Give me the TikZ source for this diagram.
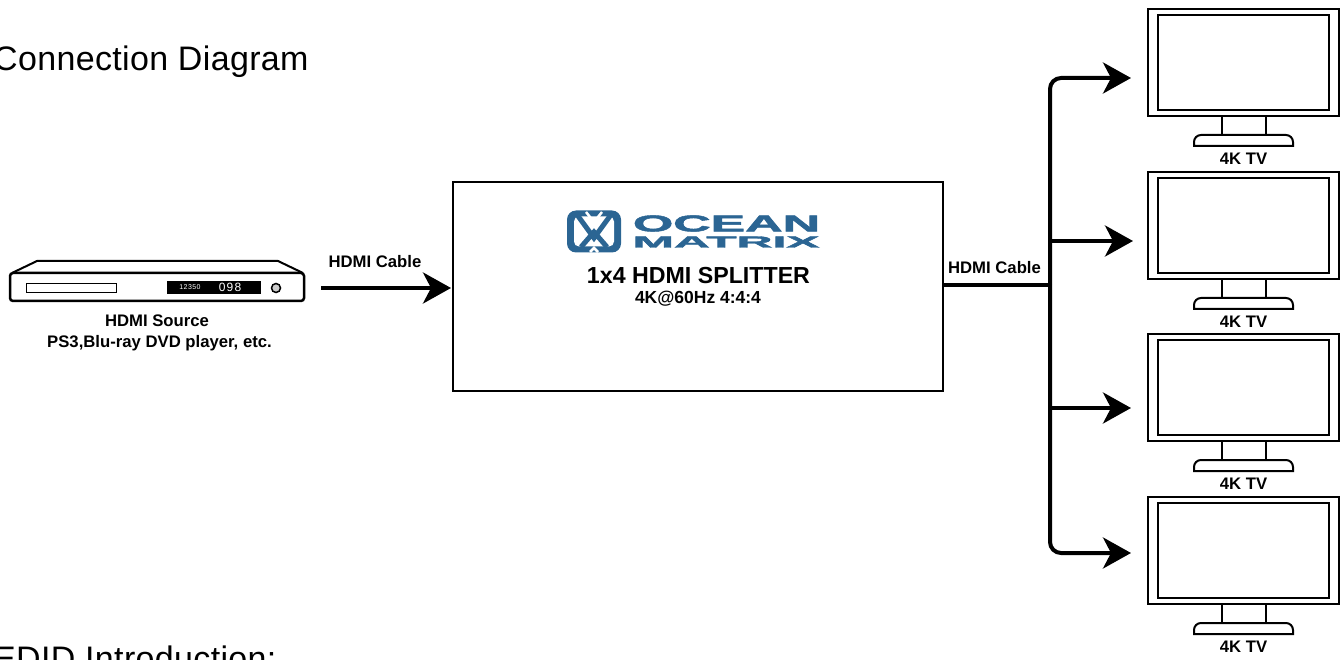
\documentclass[tikz,border=0pt]{standalone}
\usepackage{fontspec}
\setmainfont{Liberation Sans}
\usetikzlibrary{arrows.meta,positioning}
\definecolor{oceanblue}{HTML}{2B6593}
\tikzset{
	cable/.style={line width=4pt, rounded corners=11pt, -{Stealth[length=28pt,width=31pt,inset=8pt]}},
	tvscreen/.style={draw, line width=2pt, minimum width=191pt, minimum height=107pt, inner sep=0pt},
	tvlabel/.style={font=\fontsize{16.7}{16.7}\selectfont\bfseries, inner sep=0pt},
	heading/.style={font=\fontsize{34}{34}\selectfont\addfontfeature{LetterSpace=1}, anchor=base west, inner sep=0pt},
	logotext/.style={text=oceanblue, font=\bfseries\addfontfeature{FakeBold=2}, inner sep=0pt}
}
\begin{document}
\begin{tikzpicture}[x=1pt, y=-1pt]
	\useasboundingbox (0,0) rectangle (1342,660);
	\node [heading] (title) at (-7,71) {Connection Diagram};
	\node [heading] (edid) at (-7,670) {EDID Introduction:};

	% source player
	\draw [line width=2pt, line join=round] (12,273) -- (37,261) -- (278,261) -- (303,273);
	\draw [line width=2.5pt, rounded corners=3pt] (10,273) rectangle (304,301);
	\draw [line width=0.8pt] (26,283) rectangle (116,292);
	\node [fill=black, minimum width=94pt, minimum height=13pt, inner sep=0pt] (display) at (214,287.5) {};
	\node [text=white, font=\fontsize{7}{7}\selectfont\addfontfeature{LetterSpace=6}, inner sep=0pt] (count) at (190,287.5) {12350};
	\node [text=white, font=\fontsize{12}{12}\selectfont\addfontfeature{LetterSpace=10}, inner sep=0pt] (track) at (230,287.5) {098};
	\draw [line width=1.5pt, fill=gray!40] (276,288) circle (4.5);
	\node [tvlabel] (sourcename) at (157,321) {HDMI Source};
	\node [tvlabel] (sourcekind) at (159.5,343) {PS3,Blu-ray DVD player, etc.};

	% splitter
	\node [draw, line width=2.5pt, minimum width=490pt, minimum height=209pt, inner sep=0pt] (splitter) at (698,286.5) {};
	\node [fill=oceanblue, rounded corners=9pt, minimum width=54pt, minimum height=42pt, inner sep=0pt] (mark) at (594,231.5) {};
	\node [fill=white, rounded corners=5pt, minimum width=40pt, minimum height=30pt, inner sep=0pt] (markhole) at (594,231.5) {};
	\draw [oceanblue, line width=5pt] (578,216) -- (594,238) -- (610,216) (581,247) -- (594,232) -- (607,247);
	\draw [white, line width=2.5pt] (586,212) -- (594,222) -- (602,212) (590,252) -- (594,248) -- (598,252);
	\node [logotext] (ocean) at (726.5,223.5) {\resizebox{187pt}{16pt}{OCEAN}};
	\node [logotext] (matrix) at (726,242) {\resizebox{187pt}{11pt}{MATRIX}};
	\node [inner sep=0pt, font=\fontsize{23.2}{23.2}\selectfont\bfseries] (model) at (698.5,276) {1x4 HDMI SPLITTER};
	\node [inner sep=0pt, font=\fontsize{17.5}{17.5}\selectfont\bfseries] (mode) at (698,298.5) {4K@60Hz 4:4:4};

	% displays
	\foreach \n/\y in {1/9, 2/172, 3/334, 4/497} {
		\node [tvscreen] (tv\n) at (1243.5,\y+53.5) {};
		\draw [line width=2pt] (1158,\y+6) rectangle (1329,\y+101);
		\draw [line width=2pt] (1222,\y+107) -- (1222,\y+126) (1266,\y+107) -- (1266,\y+126);
		\draw [line width=2pt] (1194,\y+137) -- (1194,\y+133) arc (180:270:7) -- (1286,\y+126) arc (270:360:7) -- (1293,\y+137) -- cycle;
		\node [tvlabel] (name\n) at (1243.5,\y+150) {4K TV};
	}

	% cables
	\coordinate (sourceout) at (321,288);
	\coordinate (splitterin) at (451,288);
	\coordinate (splitterout) at (splitter.east |- 0,285);
	\coordinate (trunk) at (1050,285);
	\draw [cable] (sourceout) -- (splitterin);
	\node [tvlabel] (cablein) at (375,262) {HDMI Cable};
	\node [tvlabel] (cableout) at (994.5,267.5) {HDMI Cable};
	\draw [line width=4pt] (splitterout) -- (trunk);
	\draw [cable] (trunk) -- (1050,78) -- (1131,78);
	\draw [cable] (trunk) -- (1050,553) -- (1131,553);
	\draw [cable] (1050,241) -- (1133,241);
	\draw [cable] (1050,408) -- (1131,408);
\end{tikzpicture}
\end{document}
